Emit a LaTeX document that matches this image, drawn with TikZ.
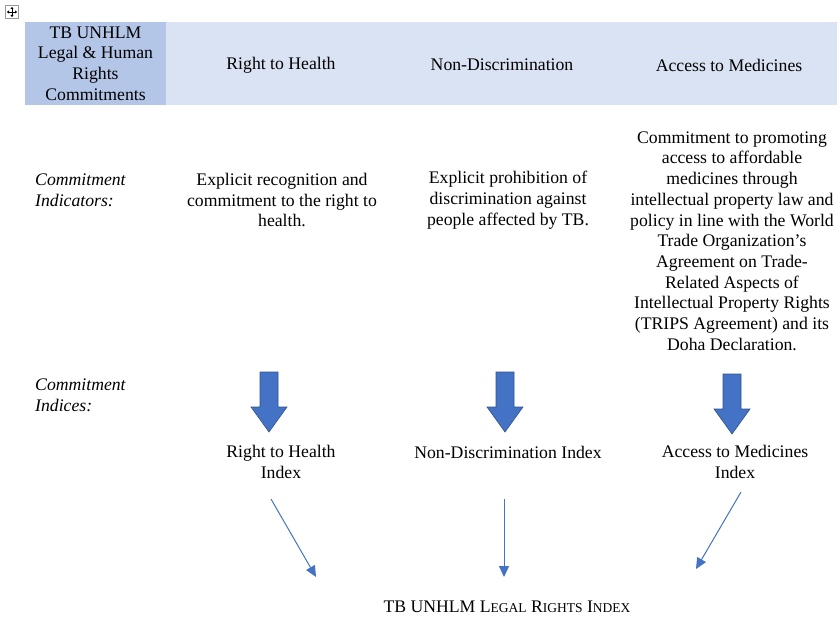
\documentclass[tikz,border=0pt]{standalone}
\usepackage{fontspec}
\setmainfont{Liberation Serif}
\usetikzlibrary{arrows.meta}
\definecolor{hdrdark}{HTML}{B4C6E7}
\definecolor{hdrlight}{HTML}{DAE3F3}
\definecolor{arrowblue}{HTML}{4472C4}
\definecolor{arrowedge}{HTML}{2F528F}
\tikzset{
  txt/.style={font=\fontsize{17.7}{20.7}\selectfont,align=center,inner sep=0pt},
  rowlabel/.style={txt,align=left,anchor=west,font=\fontsize{17.7}{20.7}\selectfont\itshape},
  fatarrow/.pic={\draw[fill=arrowblue,draw=arrowedge,line width=.6pt]
    (-9,0) -- (9,0) -- (9,35) -- (18,35) -- (0,60) -- (-18,35) -- (-9,35) -- cycle;},
  thinarrow/.style={arrowblue,line width=1pt,-{Triangle[length=11pt,width=10pt]}}
}
\begin{document}
\begin{tikzpicture}[x=1pt,y=-1pt]
\useasboundingbox (0,0) rectangle (840,617);
% table handle
\node[draw=gray!80,fill=white,minimum size=13pt,inner sep=0pt] (moveHandle) at (12,12) {};
\draw[line width=.6pt,{Triangle[length=2pt,width=3pt]}-{Triangle[length=2pt,width=3pt]}] (12,7) -- (12,17);
\draw[line width=.6pt,{Triangle[length=2pt,width=3pt]}-{Triangle[length=2pt,width=3pt]}] (7,12) -- (17,12);
% header row
\fill[hdrlight] (25,22) rectangle (837,105);
\node[txt,fill=hdrdark,minimum width=141pt,minimum height=83pt] (hdrCorner) at (95.5,63.5)
  {TB UNHLM\\Legal \& Human\\Rights\\Commitments};
\node[txt] (hdrHealth) at (281,65) {Right to Health};
\node[txt] (hdrNonDisc) at (502,65) {Non-Discrimination};
\node[txt] (hdrAccess) at (729,65) {Access to Medicines};
% indicators
\node[rowlabel] (lblIndicators) at (35,190) {Commitment\\Indicators:};
\node[txt] (indHealth) at (282,200) {Explicit recognition and\\commitment to the right to\\health.};
\node[txt] (indNonDisc) at (508,200) {Explicit prohibition of\\discrimination against\\people affected by TB.};
\node[txt] (indAccess) at (732,241) {Commitment to promoting\\access to affordable\\medicines through\\intellectual property law and\\policy in line with the World\\Trade Organization’s\\Agreement on Trade-\\Related Aspects of\\Intellectual Property Rights\\(TRIPS Agreement) and its\\Doha Declaration.};
% indices
\node[rowlabel] (lblIndices) at (35,395) {Commitment\\Indices:};
\pic at (269,372) {fatarrow};
\pic at (505,372) {fatarrow};
\pic at (732,374) {fatarrow};
\node[txt] (idxHealth) at (281,462) {Right to Health\\Index};
\node[txt] (idxNonDisc) at (508,452) {Non-Discrimination Index};
\node[txt] (idxAccess) at (735,462) {Access to Medicines\\Index};
% overall index
\node[txt] (legalIdx) at (507,607)
  {TB UNHLM L{\fontsize{13.5}{15}\selectfont EGAL} R{\fontsize{13.5}{15}\selectfont IGHTS} I{\fontsize{13.5}{15}\selectfont NDEX}};
\coordinate (healthFrom) at (271,499);
\coordinate (healthTo) at (316,577);
\coordinate (nonDiscFrom) at (504,499);
\coordinate (nonDiscTo) at (504,577);
\coordinate (accessFrom) at (741,492);
\coordinate (accessTo) at (696,569);
\draw[thinarrow] (healthFrom) -- (healthTo);
\draw[thinarrow] (nonDiscFrom) -- (nonDiscTo);
\draw[thinarrow] (accessFrom) -- (accessTo);
\end{tikzpicture}
\end{document}
